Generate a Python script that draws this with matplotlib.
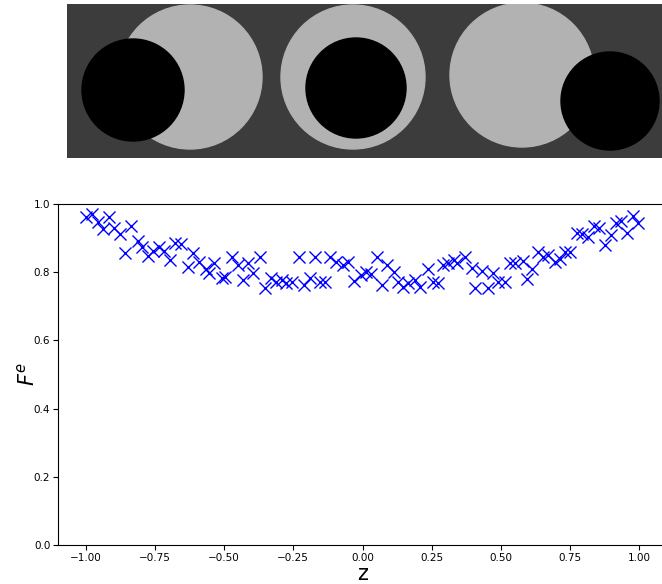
import matplotlib
matplotlib.use('Agg')
import matplotlib.pyplot as plt
from matplotlib.patches import Circle, Rectangle

# scatter data
z = [-1.000, -0.978, -0.957, -0.939, -0.917, -0.899, -0.877, -0.859, -0.838, -0.812,
     -0.798, -0.776, -0.758, -0.736, -0.718, -0.697, -0.679, -0.657, -0.632, -0.614,
     -0.592, -0.567, -0.556, -0.538, -0.509, -0.495, -0.473, -0.451, -0.433, -0.415,
     -0.397, -0.372, -0.354, -0.332, -0.314, -0.292, -0.278, -0.253, -0.231, -0.213,
     -0.191, -0.170, -0.152, -0.134, -0.116, -0.094, -0.072, -0.051, -0.032, -0.007,
     0.011, 0.029, 0.054, 0.072, 0.090, 0.112, 0.130, 0.148, 0.166, 0.188,
     0.209, 0.235, 0.253, 0.271, 0.289, 0.310, 0.329, 0.343, 0.372, 0.397,
     0.408, 0.433, 0.455, 0.473, 0.491, 0.516, 0.534, 0.552, 0.578, 0.596,
     0.614, 0.635, 0.653, 0.671, 0.697, 0.715, 0.733, 0.751, 0.776, 0.794,
     0.816, 0.838, 0.856, 0.877, 0.899, 0.917, 0.935, 0.957, 0.978, 0.996]
fe = [0.962, 0.971, 0.947, 0.927, 0.962, 0.930, 0.912, 0.856, 0.935, 0.891,
      0.874, 0.848, 0.862, 0.874, 0.862, 0.836, 0.886, 0.883, 0.815, 0.856,
      0.830, 0.809, 0.798, 0.827, 0.783, 0.786, 0.845, 0.821, 0.777, 0.827,
      0.798, 0.845, 0.754, 0.783, 0.771, 0.777, 0.768, 0.771, 0.845, 0.762,
      0.783, 0.845, 0.771, 0.771, 0.845, 0.830, 0.821, 0.830, 0.774, 0.792,
      0.801, 0.795, 0.845, 0.762, 0.821, 0.801, 0.771, 0.757, 0.768, 0.777,
      0.757, 0.809, 0.771, 0.768, 0.821, 0.827, 0.836, 0.827, 0.845, 0.812,
      0.754, 0.804, 0.754, 0.798, 0.771, 0.771, 0.827, 0.827, 0.833, 0.780,
      0.809, 0.859, 0.845, 0.850, 0.830, 0.839, 0.859, 0.859, 0.915, 0.912,
      0.903, 0.935, 0.930, 0.880, 0.909, 0.944, 0.950, 0.915, 0.965, 0.944]

# the three configurations shown above the plot (image pixel units)
big_x = [123, 286, 455]
big_y = [73, 73, 71]
big_r = [72, 72, 72]
small_x = [66, 289, 543]
small_y = [86, 84, 97]
small_r = [51, 50, 49]

fig = plt.figure(figsize=(6.62, 5.84), dpi=100)

# top image strip
ax_img = fig.add_axes([67 / 662, 1 - 158 / 584, 595 / 662, 154 / 584])
ax_img.add_patch(Rectangle((0, 0), 595, 154, color='#3c3c3c'))
for bx, by, br in zip(big_x, big_y, big_r):
    ax_img.add_patch(Circle((bx, by), br, color='#b2b2b2'))
for sx, sy, sr in zip(small_x, small_y, small_r):
    ax_img.add_patch(Circle((sx, sy), sr, color='black'))
ax_img.set_xlim(0, 595)
ax_img.set_ylim(154, 0)
ax_img.axis('off')

# scatter plot
ax = fig.add_axes([58 / 662, 39 / 584, 609 / 662, 341 / 584])
ax.scatter(z, fe, marker='x', color='blue', s=75, linewidths=1)
ax.set_xlim(-1.1, 1.1)
ax.set_ylim(0, 1.0)
ax.set_xticks([-1.0, -0.75, -0.5, -0.25, 0.0, 0.25, 0.5, 0.75, 1.0])
ax.tick_params(labelsize=7.5, pad=2)
ax.set_xlabel('z', fontsize=15, labelpad=1)
ax.set_ylabel('$F^e$', fontsize=15, labelpad=-3)

fig.savefig('out.png', dpi=100)
